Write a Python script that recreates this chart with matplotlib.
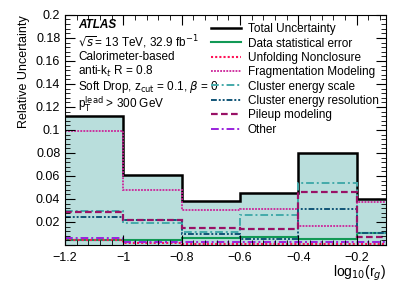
import matplotlib
matplotlib.use("Agg")
import matplotlib.pyplot as plt
from matplotlib.ticker import MultipleLocator, FuncFormatter

plt.rcParams['font.family'] = ['Liberation Sans', 'DejaVu Sans']
plt.rcParams['axes.unicode_minus'] = True

# bin edges in log10(r_g)
edges = [-1.2, -1.0, -0.8, -0.6, -0.4, -0.2, -0.1]

total = [0.112, 0.061, 0.0385, 0.045, 0.080, 0.0404]
data_stat = [0.0040, 0.0040, 0.0063, 0.0072, 0.0055, 0.0107]
unfold_nonclosure = [0.0040, 0.0015, 0.0010, 0.0010, 0.0010, 0.0010]
fragmentation = [0.099, 0.048, 0.0306, 0.031, 0.0163, 0.037]
clus_scale = [0.0295, 0.0195, 0.0110, 0.0265, 0.054, 0.0105]
clus_res = [0.0245, 0.0220, 0.0099, 0.0052, 0.0317, 0.0102]
pileup = [0.0285, 0.0213, 0.0146, 0.0137, 0.0457, 0.0073]
other = [0.0060, 0.0025, 0.0030, 0.0022, 0.0026, 0.0022]

fig = plt.figure(figsize=(4.07, 2.92), dpi=100)
ax = fig.add_axes([0.16, 0.161, 0.788, 0.788])

# filled total band + outline
ax.stairs(total, edges, fill=True, color='#b9dedc', baseline=0)
ax.stairs(total, edges, color='black', lw=1.8, baseline=None, label='Total Uncertainty')

ax.stairs(data_stat, edges, color='#119955', lw=1.5, baseline=None, label='Data statistical error')
ax.stairs(unfold_nonclosure, edges, color='#ff1155', lw=1.5, ls=(0, (1, 1)), baseline=None,
          label='Unfolding Nonclosure')
ax.stairs(fragmentation, edges, color='#cc2299', lw=1.3, ls=(0, (1, 0.7)), baseline=None,
          label='Fragmentation Modeling')
ax.stairs(clus_scale, edges, color='#44aaaa', lw=1.4, ls=(0, (4, 1.5, 1, 1.5)), baseline=None,
          label='Cluster energy scale')
ax.stairs(clus_res, edges, color='#115577', lw=1.4, ls=(0, (3, 1, 1, 1, 1, 1)), baseline=None,
          label='Cluster energy resolution')
ax.stairs(pileup, edges, color='#991166', lw=1.6, ls=(0, (3, 1.5)), baseline=None,
          label='Pileup modeling')
ax.stairs(other, edges, color='#9922dd', lw=1.4, ls=(0, (4, 1.5, 1, 1.5)), baseline=None,
          label='Other')

ax.set_xlim(-1.2, -0.1)
ax.set_ylim(0, 0.2)

ax.xaxis.set_major_locator(MultipleLocator(0.2))
ax.xaxis.set_minor_locator(MultipleLocator(0.04))
ax.yaxis.set_major_locator(MultipleLocator(0.02))
ax.yaxis.set_minor_locator(MultipleLocator(0.004))

def yfmt(v, pos):
    if abs(v) < 1e-9:
        return ''
    return ('%.2f' % v).rstrip('0')

def xfmt(v, pos):
    return ('%g' % round(v, 2)).replace('-', '\u2212')

ax.yaxis.set_major_formatter(FuncFormatter(yfmt))
ax.xaxis.set_major_formatter(FuncFormatter(xfmt))
ax.tick_params(which='both', direction='in', top=True, right=True, labelsize=9)
ax.tick_params(which='major', length=7)
ax.tick_params(which='minor', length=3.5)
ax.tick_params(axis='x', pad=5)

ax.set_ylabel('Relative Uncertainty', fontsize=9, loc='top')
ax.set_xlabel('log$_{10}$(r$_g$)', fontsize=10, loc='right', labelpad=0)

# ATLAS label block
tx = 0.04
ax.text(tx, 0.955, 'ATLAS', transform=ax.transAxes, fontsize=8.5, fontweight='bold',
        style='italic', va='center')
lines = [r'$\sqrt{s}$= 13 TeV, 32.9 fb$^{-1}$',
         'Calorimeter-based',
         r'anti-k$_t$ R = 0.8',
         r'Soft Drop, z$_{\rm cut}$ = 0.1, $\beta$ = 0',
         r'p$_{\rm T}^{\rm lead}$ > 300 GeV']
ys = [0.88, 0.815, 0.755, 0.688, 0.612]
for s, y in zip(lines, ys):
    ax.text(tx, y, s, transform=ax.transAxes, fontsize=8.5, va='center')

ax.legend(loc='upper left', bbox_to_anchor=(0.43, 1.0), frameon=False, fontsize=8.5,
          handlelength=2.5, handletextpad=0.6, labelspacing=0.2, borderaxespad=0.3)

fig.savefig('out.png', dpi=100)
